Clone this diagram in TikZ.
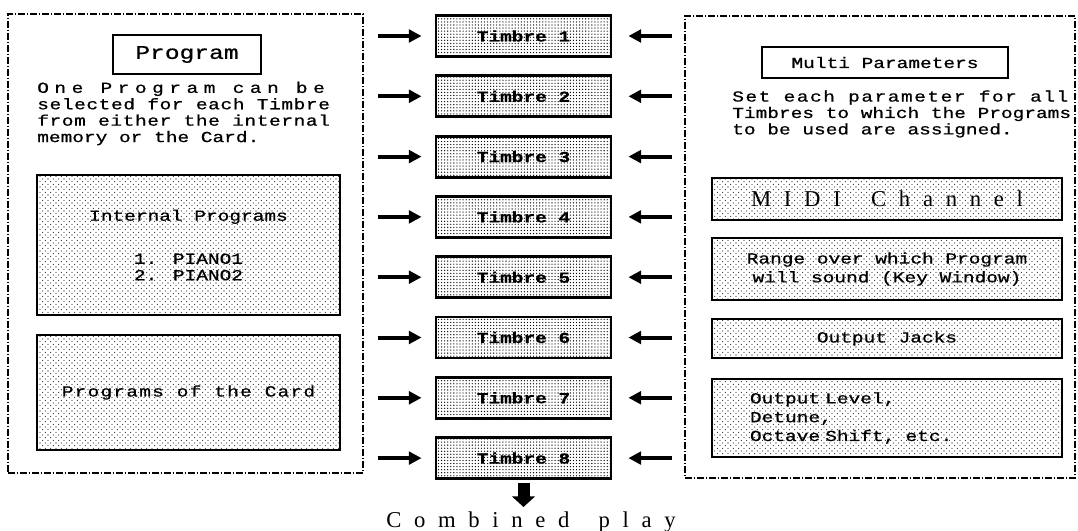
\documentclass[tikz,border=0pt]{standalone}
\usepackage{fontspec}
\newfontfamily\manualfont{Liberation Mono}[FakeStretch=1.27,FakeBold=0.7]
\newfontfamily\wideserif{Liberation Serif}[LetterSpace=56]
\newcommand\bodyfont{\manualfont\fontsize{11.5}{12.3}\selectfont}
\newcommand\headfont{\manualfont\fontsize{14.5}{18}\selectfont}
\usepackage{tikz}
\usetikzlibrary{arrows.meta,patterns}
\pgfdeclarepatternformonly{lightscreen}{\pgfqpoint{-1pt}{-1pt}}{\pgfqpoint{3pt}{3pt}}{\pgfqpoint{4pt}{4pt}}{\pgfpathcircle{\pgfqpoint{0pt}{0pt}}{0.42pt}\pgfpathcircle{\pgfqpoint{2pt}{2pt}}{0.42pt}\pgfusepath{fill}}
\pgfdeclarepatternformonly{timbrescreen}{\pgfqpoint{-1pt}{-1pt}}{\pgfqpoint{1pt}{1pt}}{\pgfqpoint{2.3pt}{2.3pt}}{\pgfpathcircle{\pgfqpoint{0pt}{0pt}}{0.5pt}\pgfusepath{fill}}
\tikzset{area/.style={draw,line width=1pt,dash pattern=on 5pt off 1.5pt on 1pt off 1.5pt,inner sep=0pt},heading/.style={draw,line width=0.9pt,inner sep=0pt,font=\headfont},tone/.style={draw,line width=1.6pt,pattern=lightscreen,inner sep=0pt,font=\bodyfont,minimum width=262.5pt},timbre/.style={draw,line width=2.2pt,pattern=timbrescreen,minimum width=131.25pt,minimum height=30.75pt,inner sep=0pt,font=\bodyfont\bfseries},feed/.style={line width=3pt,-{Triangle[length=9.5pt,width=9.5pt]}},prose/.style={font=\bodyfont,align=left,inner sep=0pt}}

\begin{document}
\begin{tikzpicture}[x=0.75pt,y=-0.75pt]
\useasboundingbox (0,0) rectangle (1078,531);
\node[area,minimum width=266.25pt,minimum height=344.25pt] (programs) at (185.5,243.5) {};
\node[area,minimum width=292.5pt,minimum height=346.5pt] (multi) at (880,247) {};
\node[heading,minimum width=111pt,minimum height=29.25pt] (progtitle) at (187,54.5) {Program};
\node[prose,anchor=west] (progtext) at (37,113.5) {{\addfontfeatures{LetterSpace=36}One Program can be}\\{\addfontfeatures{LetterSpace=4}selected for each Timbre}\\{\addfontfeatures{LetterSpace=4}from either the internal}\\memory or the Card.};
\node[tone,minimum width=227.25pt,minimum height=105pt,align=center] (internal) at (188.5,245) {Internal Programs\\[20pt]1. PIANO1\\2. PIANO2};
\node[tone,minimum width=227.25pt,minimum height=86.25pt] (card) at (188.5,392.5) {\addfontfeatures{LetterSpace=8}Programs of the Card};
\foreach \i in {1,...,8}
  \node[timbre] (t\i) at (523.5,{36+60.3*(\i-1)}) {Timbre \i};
\node[heading,font=\bodyfont,minimum width=184.5pt,minimum height=23.25pt] (multititle) at (885,62.5) {Multi Parameters};
\node[prose,anchor=west] (multitext) at (732,114) {{\addfontfeatures{LetterSpace=10}Set each parameter for all}\\Timbres to which the Programs\\to be used are assigned.};
\node[tone,minimum height=31.5pt] (midi) at (887,199) {\wideserif\fontsize{17}{18}\selectfont MIDI\hspace{9pt} Channel};
\node[tone,minimum height=46.5pt,align=center] (keywin) at (887,269) {Range over which Program\\[1.8pt]will sound (Key Window)};
\node[tone,minimum height=29.25pt] (jacks) at (887,338.5) {Output Jacks};
\node[tone,minimum height=58.5pt,align=left,text width=205.5pt,inner xsep=28.5pt] (level) at (887,418) {Output Level,\\[1.8pt]Detune,\\[1.8pt]Octave Shift,~~etc.};
\node[anchor=base,inner sep=0pt,font=\wideserif\fontsize{17}{18}\selectfont] (play) at (531,527) {Combined\hspace{8pt} play};
\foreach \i in {1,...,8} {
  \draw[feed,shorten <=10.5pt,shorten >=9.75pt] (programs.east |- t\i) -- (t\i.west);
  \draw[feed,shorten <=9pt,shorten >=12pt] (multi.west |- t\i) -- (t\i.east);
}
\draw[line width=9pt,-{Triangle[length=8pt,width=17pt]},shorten <=2pt,shorten >=3pt] (t8.south) -- (t8.south |- play.north);
\end{tikzpicture}
\end{document}
